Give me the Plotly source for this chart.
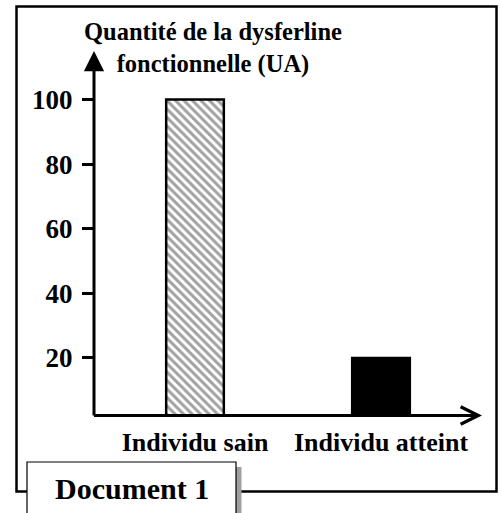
import plotly.graph_objects as go

categories = ["Individu sain", "Individu atteint"]
values = [100, 20]
tick_vals = [20, 40, 60, 80, 100]
tick_text = ["20", "40", "60", "80", "100"]
y_title = "Quantité de la dysferline<br>fonctionnelle (UA)"
doc_label = "Document 1"

W, H = 502, 513
def X(px):
    return px / W
def Y(py):
    return 1 - py / H

FONT = "Liberation Serif, Times New Roman, serif"

fig = go.Figure()
fig.add_trace(go.Bar(
    x=categories, y=values, width=0.31,
    marker=dict(
        color=["white", "black"],
        line=dict(color="black", width=2.5),
        pattern=dict(shape=["\\", ""], fgcolor="black", bgcolor=["white", "black"],
                     size=6, solidity=0.5),
    ),
    showlegend=False,
))

fig.update_layout(
    width=W, height=H, autosize=False,
    margin=dict(l=0, r=0, t=0, b=0),
    paper_bgcolor="white", plot_bgcolor="white",
    xaxis=dict(
        domain=[X(94), X(482)], range=[-0.543, 1.543],
        showline=False, showgrid=False, zeroline=False, ticks="",
        tickfont=dict(family=FONT, size=26, color="black", weight="bold"),
        ticklabelstandoff=8,
    ),
    yaxis=dict(
        domain=[Y(415.5), Y(53)], range=[2.2, 114.4],
        showline=False, showgrid=False, zeroline=False,
        tickvals=tick_vals, ticktext=tick_text,
        ticks="outside", ticklen=11, tickwidth=3, tickcolor="black",
        tickfont=dict(family=FONT, size=27, color="black", weight="bold"),
        ticklabelstandoff=4,
    ),
)

# axes with arrows
fig.add_annotation(x=X(482), y=Y(415.5), xref="paper", yref="paper",
                   ax=-(482 - 92.5), ay=0, axref="pixel", ayref="pixel",
                   text="", showarrow=True, arrowhead=5, arrowsize=1.15,
                   arrowwidth=3, arrowcolor="black", standoff=0, startstandoff=0)
fig.add_annotation(x=X(94), y=Y(51), xref="paper", yref="paper",
                   ax=0, ay=(417 - 51), axref="pixel", ayref="pixel",
                   text="", showarrow=True, arrowhead=2, arrowsize=1.35,
                   arrowwidth=3, arrowcolor="black", standoff=0, startstandoff=0)

# y title
fig.add_annotation(x=X(213), y=Y(48), xref="paper", yref="paper",
                   text=y_title, showarrow=False, align="center",
                   xanchor="center", yanchor="middle",
                   font=dict(family=FONT, size=24.5, color="black", weight="bold"))

# outer frame
fig.add_shape(type="rect", xref="paper", yref="paper",
              x0=X(16.5), x1=X(496.5), y0=Y(491.5), y1=Y(6.5),
              line=dict(color="black", width=2.5), fillcolor="rgba(0,0,0,0)", layer="above")
# document label box with shadow
fig.add_shape(type="rect", xref="paper", yref="paper",
              x0=X(236), x1=X(241.5), y0=Y(520), y1=Y(467),
              line=dict(width=0), fillcolor="#a0a0a0", layer="above")
fig.add_shape(type="rect", xref="paper", yref="paper",
              x0=X(27), x1=X(236), y0=Y(520), y1=Y(462),
              line=dict(color="black", width=1.2), fillcolor="white", layer="above")
fig.add_annotation(x=X(131.5), y=Y(488), xref="paper", yref="paper",
                   text=doc_label, showarrow=False, xanchor="center", yanchor="middle",
                   font=dict(family=FONT, size=30, color="black", weight="bold"))

fig.write_html("out.html", config={"displayModeBar": False},
               post_script="document.body.style.margin='0';document.body.style.overflow='hidden';")
